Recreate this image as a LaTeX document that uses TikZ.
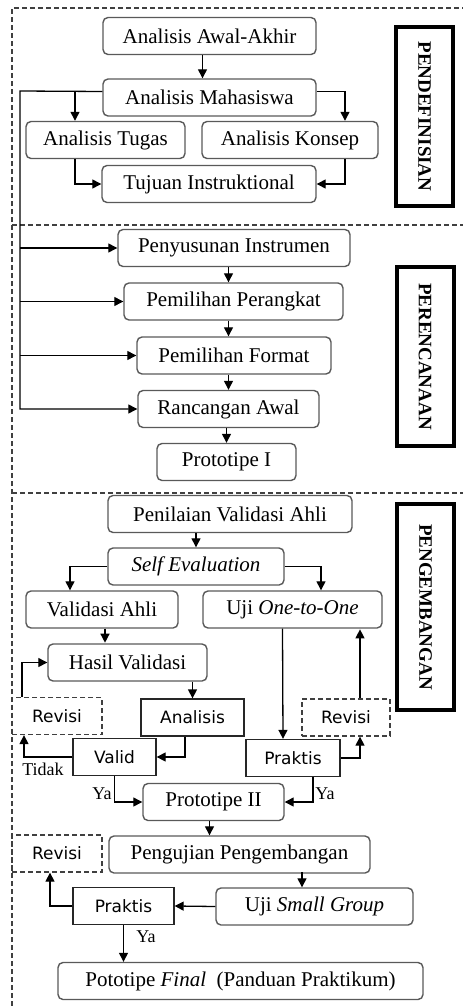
\documentclass[tikz,border=0pt]{standalone}
\usepackage{fontspec}
\setmainfont{Liberation Serif}
\newfontfamily\revfont{DejaVu Sans}
\usetikzlibrary{arrows.meta,calc}

\tikzset{
    box/.style={draw=black!65, line width=1.4pt, rounded corners=5pt, minimum height=37pt,
        inner sep=0pt, font=\fontsize{21}{23}\selectfont},
    sbox/.style={draw=black!85, line width=1.3pt, minimum height=37pt, inner sep=0pt,
        font=\revfont\fontsize{17}{19}\selectfont},
    rbox/.style={draw=black!75, line width=1.3pt, dash pattern=on 5pt off 3pt, minimum height=37pt,
        inner sep=0pt, font=\revfont\fontsize{17}{19}\selectfont},
    tahap/.style={draw, line width=4pt, rotate=-90, minimum width=179pt, minimum height=57pt,
        inner sep=0pt, font=\bfseries\fontsize{19}{21}\selectfont},
    arr/.style={-{Triangle[length=9pt,width=9pt]}, line width=1.3pt},
    lab/.style={font=\fontsize{18}{20}\selectfont, inner sep=0pt},
    frame/.style={dash pattern=on 5pt off 3pt, line width=1.1pt, black!75}
}

\begin{document}
    \begin{tikzpicture}[x=1pt, y=-1pt]
        \useasboundingbox (0,0) rectangle (463,1006);
        \draw[frame] (12,1006) -- (12,8) -- (463,8);
        \draw[frame] (12,225) -- (463,225);
        \draw[frame] (12,493) -- (463,493);

        \node[box, minimum width=213pt] (d1) at (209.5,36)  {Analisis Awal-Akhir};
        \node[box, minimum width=213pt] (d2) at (209.5,97.5) {Analisis Mahasiswa};
        \node[box, minimum width=159pt] (d3) at (105.5,140) {Analisis Tugas};
        \node[box, minimum width=176pt] (d4) at (290,140)   {Analisis Konsep};
        \node[box, minimum width=214pt] (d5) at (209,184)   {Tujuan Instruktional};
        \node[tahap] (t1) at (424.5,116.5) {PENDEFINISIAN};

        \node[box, minimum width=232pt] (p1) at (234,248)   {Penyusunan Instrumen};
        \node[box, minimum width=219pt] (p2) at (233.5,301.5) {Pemilihan Perangkat};
        \node[box, minimum width=194pt] (p3) at (234,355.5) {Pemilihan Format};
        \node[box, minimum width=181pt] (p4) at (228.5,409) {Rancangan Awal};
        \node[box, minimum width=139pt] (p5) at (226.5,462) {Prototipe I};
        \node[tahap] (t2) at (425,356.5) {PERENCANAAN};

        \node[box, minimum width=244pt] (g1) at (230,514)   {Penilaian Validasi Ahli};
        \node[box, minimum width=176pt] (g2) at (196,566.5) {\itshape Self Evaluation};
        \node[box, minimum width=152pt] (g3) at (102,609.5) {Validasi Ahli};
        \node[box, minimum width=179pt] (g4) at (292.5,609.5) {Uji \textit{One-to-One}};
        \node[box, minimum width=159pt] (g5) at (127.5,662.5) {Hasil Validasi};
        \node[rbox, minimum width=90pt] (r1) at (57,716)    {Revisi};
        \node[sbox, minimum width=103pt] (g6) at (192.5,717.5) {Analisis};
        \node[sbox, minimum width=83pt] (g7) at (114.5,757) {Valid};
        \node[sbox, minimum width=94pt] (g8) at (293,758)   {Praktis};
        \node[rbox, minimum width=88pt] (r2) at (346,717.5) {Revisi};
        \node[box, minimum width=141pt] (g9) at (213.5,802) {Prototipe II};
        \node[rbox, minimum width=90pt] (r3) at (57,853.5)  {Revisi};
        \node[box, minimum width=261pt] (g10) at (239.5,854.5) {Pengujian Pengembangan};
        \node[box, minimum width=197pt] (g11) at (314.5,906.5) {Uji \textit{Small Group}};
        \node[sbox, minimum width=101pt] (g12) at (123.5,906) {Praktis};
        \node[box, minimum width=365pt] (g13) at (240.5,981) {Pototipe \textit{Final}\ \ (Panduan Praktikum)};
        \node[tahap, minimum width=206pt] (t3) at (425.5,607) {PENGEMBANGAN};

        \coordinate (k1) at (20,91);

        \draw[arr] ([xshift=-7pt]d1.south) -- ([xshift=-7pt]d2.north);
        \draw[arr] ([yshift=6pt]d2.west) -| ([xshift=-30.5pt]d3.north);
        \draw[arr] ([yshift=6pt]d2.east) -| ([xshift=55pt]d4.north);
        \draw[arr] ([xshift=-30.5pt]d3.south) |- (d5.west);
        \draw[arr] ([xshift=55pt]d4.south) |- (d5.east);

        \draw[arr] ([yshift=6pt]d2.west) -- (k1) |- (p4.west);
        \draw[arr] (k1 |- p1.west) -- (p1.west);
        \draw[arr] (k1 |- p2.west) -- (p2.west);
        \draw[arr] (k1 |- p3.west) -- (p3.west);
        \draw[arr] (p1.south -| p4) -- (p2.north -| p4);
        \draw[arr] (p2.south -| p4) -- (p3.north -| p4);
        \draw[arr] (p3.south -| p4) -- (p4.north);
        \draw[arr] (p4.south -| p5) -- (p5.north);

        \draw[arr] (g1.south -| g2) -- (g2.north);
        \draw[arr] (g2.west) -| ([xshift=-32pt]g3.north);
        \draw[arr] (g2.east) -| ([xshift=28.5pt]g4.north);
        \draw[arr] ([xshift=3pt]g3.south) -- ++(0,14);
        \draw[arr] ([xshift=-35pt]r1.north) |- (g5.west);
        \draw[arr] (g5.south -| g6) -- (g6.north);
        \draw[arr] ([xshift=-7.5pt]g6.south) |- (g7.east);
        \draw[arr] (g7.west) -| ([xshift=-33pt]r1.south);
        \draw[arr] (g7.south) |- (g9.west);
        \draw[arr] ([xshift=-10pt]g4.south) -- ([xshift=-10pt]g8.north);
        \draw[arr] (g8.east) -| ([xshift=14pt]r2.south);
        \draw[arr] ([xshift=14pt]r2.north) -- ++(0,-69);
        \draw[arr] ([xshift=20pt]g8.south) |- (g9.east);
        \draw[arr] ([xshift=-4pt]g9.south) -- ([xshift=-4pt]g9.south |- g10.north);
        \draw[arr] ($(g11.north)+(-12.5,-15)$) -- ([xshift=-12.5pt]g11.north);
        \draw[arr] (g11.west) -- (g12.east);
        \draw[arr] (g12.west) -| ([xshift=-7pt]r3.south);
        \draw[arr] (g12.south) -- (g12.south |- g13.north);

        \node[lab] (n1) at (43,769)  {Tidak};
        \node[lab] (n2) at (102,794) {Ya};
        \node[lab] (n3) at (325,794) {Ya};
        \node[lab] (n4) at (146,937) {Ya};
    \end{tikzpicture}
\end{document}
